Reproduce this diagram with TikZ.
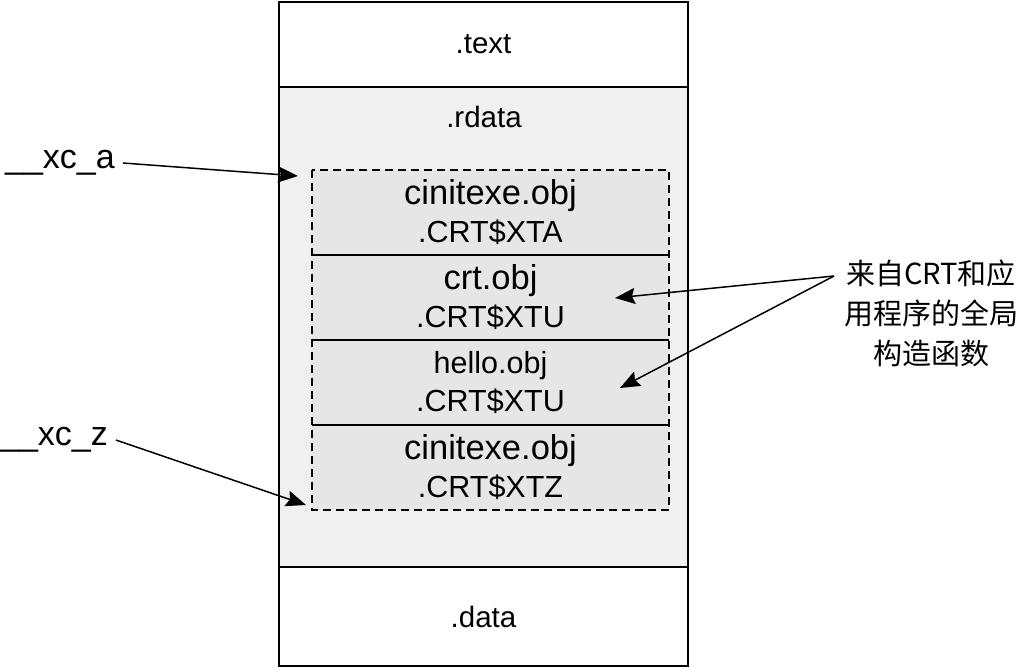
\documentclass[tikz,border=0pt]{standalone}
\usepackage{fontspec}
\setmainfont{Liberation Sans}
\newfontfamily\cjkfont{Noto Sans CJK SC}
\usetikzlibrary{arrows.meta}
\definecolor{rdatagray}{HTML}{F0F0F0}
\definecolor{entrygray}{HTML}{E6E6E6}
\newcommand{\objfont}{\fontsize{34.5}{38}\selectfont}
\newcommand{\crtfont}{\fontsize{30.5}{38}\selectfont}
\newcommand{\secfont}{\fontsize{29.5}{34}\selectfont}
\tikzset{
	sect_box/.style = {
		rectangle,
		draw=black,
		line width=1.5pt,
		inner sep=0pt,
		outer sep=0pt,
		minimum width=409pt,
		font=\secfont
	},
	entry_box/.style = {
		rectangle,
		fill=entrygray,
		inner sep=0pt,
		outer sep=0pt,
		minimum width=357pt,
		minimum height=85pt,
		align=center,
		font=\crtfont
	},
	sym_lbl/.style = {
		inner sep=0pt,
		outer sep=8pt,
		font=\fontsize{34}{38}\selectfont
	},
	note_lbl/.style = {
		align=center,
		inner sep=2pt,
		font=\cjkfont\fontsize{29}{40}\selectfont
	},
	ptr/.style = {
		line width=1.5pt,
		-{Stealth[length=20pt,width=16pt,inset=3pt]}
	},
}

\begin{document}
\begin{tikzpicture}[x=1pt,y=-1pt]
\useasboundingbox (0,0) rectangle (1024,668);
% sections
\node [sect_box, minimum height=85pt] (text) at (483.5,44.5) {.text};
\node [sect_box, fill=rdatagray, minimum height=480pt] (rdata) at (483.5,327) {};
\node [sect_box, minimum height=99pt] (data) at (483.5,616.5) {.data};
\node [font=\secfont] (rdatatitle) at (484,117) {.rdata};
% .CRT$XT* entries
\node [entry_box] (xta) at (490.5,212.5) {{\objfont cinitexe.obj}\\.CRT\$XTA};
\node [entry_box] (xtu1) at (490.5,297.5) {{\objfont crt.obj}\\.CRT\$XTU};
\node [entry_box] (xtu2) at (490.5,382.5) {hello.obj\\.CRT\$XTU};
\node [entry_box] (xtz) at (490.5,467.5) {{\objfont cinitexe.obj}\\.CRT\$XTZ};
\draw [line width=1.5pt] (xta.south west) -- (xta.south east);
\draw [line width=1.5pt] (xtu1.south west) -- (xtu1.south east);
\draw [line width=1.5pt] (xtu2.south west) -- (xtu2.south east);
\draw [line width=1.5pt, dash pattern=on 8pt off 5pt] (xta.north west) rectangle (xtz.south east);
% pointers
\node [sym_lbl] (xca) at (60,163) {\_\_xc\_a};
\node [sym_lbl] (xcz) at (54,440) {\_\_xc\_z};
\node [note_lbl] (ctor) at (931,313) {来自CRT和应\\用程序的全局\\构造函数};
\coordinate (xcatip) at (298,176);
\coordinate (xcztip) at (306,505);
\coordinate (fork) at (834,276);
\coordinate (crttip) at (615,298);
\coordinate (hellotip) at (620,388);
\draw [ptr] (xca.east) -- (xcatip);
\draw [ptr] (xcz.east) -- (xcztip);
\draw [ptr] (fork) -- (crttip);
\draw [ptr] (fork) -- (hellotip);
\end{tikzpicture}
\end{document}
